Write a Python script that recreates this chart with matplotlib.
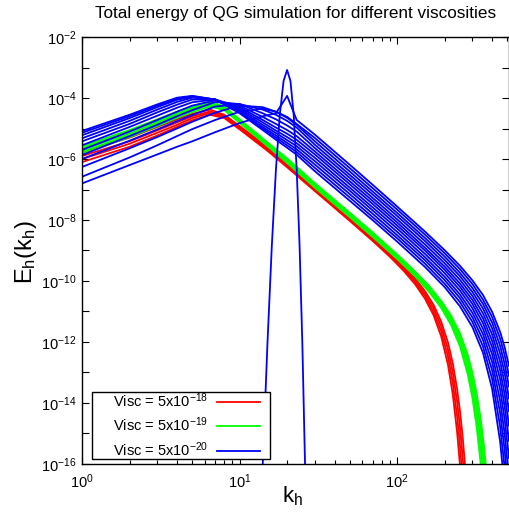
import numpy as np
import matplotlib
matplotlib.use('Agg')
import matplotlib.pyplot as plt
from matplotlib.patches import Rectangle
from matplotlib.ticker import FixedLocator, LogLocator, NullFormatter, FuncFormatter

plt.rcParams['font.family'] = ['Liberation Sans', 'DejaVu Sans']
plt.rcParams['mathtext.fontset'] = 'custom'
plt.rcParams['mathtext.rm'] = 'Liberation Sans'
plt.rcParams['mathtext.it'] = 'Liberation Sans:italic'

### Spectra, stored as log10(E_h)
# initial spike (k = 20)
k_spike = [13, 14, 15, 16, 17, 18, 19, 20, 21, 22, 23, 24, 25, 26, 27]
e_spike = [-20.7, -16.04, -12.08, -8.84, -6.32, -4.52, -3.44, -3.08,
           -3.44, -4.52, -6.32, -8.84, -12.08, -16.04, -20.7]

# Visc = 5x10^-18
k_red = [1, 2, 3, 4, 5, 6.5, 8, 10, 15, 20, 30, 50, 70, 90, 110, 130, 150, 170,
         190, 210, 225, 240, 250, 260, 270, 280]
red_1 = [-5.77, -5.30, -4.95, -4.70, -4.52, -4.38, -4.55, -4.92, -5.60, -6.12,
         -6.92, -7.89, -8.55, -9.06, -9.50, -9.91, -10.33, -10.78, -11.33, -12.02,
         -12.69, -13.55, -14.25, -15.09, -16.11, -17.33]
red_2 = [-5.90, -5.42, -5.06, -4.80, -4.60, -4.44, -4.58, -4.95, -5.64, -6.17,
         -6.96, -7.94, -8.59, -9.11, -9.56, -9.98, -10.41, -10.89, -11.48, -12.24,
         -12.99, -13.96, -14.77, -15.75, -16.94, -18.38]
red_3 = [-6.00, -5.50, -5.14, -4.88, -4.66, -4.49, -4.62, -4.99, -5.69, -6.22,
         -7.01, -7.98, -8.64, -9.16, -9.61, -10.05, -10.49, -11.01, -11.64, -12.48,
         -13.33, -14.44, -15.38, -16.51, -17.90, -19.60]
red_4 = [-6.10, -5.60, -5.23, -4.95, -4.73, -4.55, -4.66, -5.03, -5.73, -6.27,
         -7.05, -8.03, -8.69, -9.21, -9.67, -10.11, -10.58, -11.12, -11.81, -12.75,
         -13.70, -14.96, -16.03, -17.35, -18.98, -20.99]

# Visc = 5x10^-19
k_green = [1, 2, 3, 4, 5, 6.5, 8, 10, 15, 20, 30, 50, 70, 100, 130, 160, 190,
           220, 250, 280, 300, 320, 340, 355, 370, 385]
green_1 = [-5.58, -5.05, -4.70, -4.45, -4.27, -4.12, -4.28, -4.70, -5.45, -5.98,
           -6.79, -7.76, -8.41, -9.13, -9.69, -10.17, -10.65, -11.14, -11.71, -12.41,
           -13.00, -13.71, -14.58, -15.39, -16.35, -17.49]
green_2 = [-5.64, -5.10, -4.75, -4.50, -4.31, -4.16, -4.31, -4.73, -5.48, -6.02,
           -6.83, -7.80, -8.45, -9.17, -9.73, -10.22, -10.70, -11.22, -11.81, -12.56,
           -13.18, -13.95, -14.92, -15.80, -16.85, -18.13]
green_3 = [-5.70, -5.16, -4.80, -4.55, -4.36, -4.20, -4.34, -4.76, -5.52, -6.06,
           -6.86, -7.84, -8.49, -9.20, -9.77, -10.27, -10.76, -11.29, -11.91, -12.70,
           -13.37, -14.20, -15.25, -16.21, -17.39, -18.79]
green_4 = [-5.76, -5.22, -4.86, -4.60, -4.41, -4.24, -4.37, -4.79, -5.55, -6.09,
           -6.90, -7.87, -8.52, -9.24, -9.81, -10.32, -10.82, -11.37, -12.03, -12.87,
           -13.59, -14.50, -15.66, -16.73, -18.02, -19.61]
green_5 = [-5.82, -5.28, -4.92, -4.65, -4.46, -4.28, -4.40, -4.82, -5.58, -6.13,
           -6.94, -7.91, -8.56, -9.28, -9.85, -10.37, -10.88, -11.45, -12.14, -13.05,
           -13.83, -14.82, -16.08, -17.26, -18.71, -20.47]

# Visc = 5x10^-20
k_blue = [1, 2, 3, 4, 5, 7, 10, 14, 17, 20, 23, 30, 50, 70, 100, 150, 200, 250,
          300, 350, 400, 450, 480, 512]
blue_1 = [-6.80, -6.20, -5.85, -5.60, -5.42, -5.12, -4.82, -4.60, -4.50, -3.93, -4.72, -5.20,
          -6.19, -6.85, -7.56, -8.38, -8.99, -9.50, -9.98, -10.46, -11.01, -11.67, -12.16, -12.78]
blue_2 = [-6.58, -5.95, -5.55, -5.25, -5.02, -4.72, -4.45, -4.35, -4.45, -4.62, -4.85, -5.31,
          -6.30, -6.96, -7.66, -8.48, -9.09, -9.61, -10.10, -10.61, -11.18, -11.89, -12.42, -13.11]
blue_3 = [-6.26, -5.65, -5.28, -5.00, -4.78, -4.48, -4.25, -4.30, -4.45, -4.65, -4.88, -5.42,
          -6.41, -7.07, -7.77, -8.59, -9.20, -9.73, -10.23, -10.75, -11.36, -12.13, -12.71, -13.46]
blue_4 = [-6.00, -5.40, -5.03, -4.76, -4.56, -4.28, -4.20, -4.38, -4.55, -4.75, -4.97, -5.53,
          -6.52, -7.17, -7.87, -8.69, -9.31, -9.84, -10.36, -10.90, -11.55, -12.38, -13.01, -13.85]
blue_5 = [-5.87, -5.25, -4.88, -4.60, -4.40, -4.13, -4.20, -4.50, -4.70, -4.90, -5.10, -5.64,
          -6.62, -7.28, -7.98, -8.80, -9.42, -9.96, -10.49, -11.06, -11.75, -12.65, -13.34, -14.27]
blue_6 = [-5.70, -5.10, -4.72, -4.45, -4.25, -4.08, -4.25, -4.62, -4.85, -5.05, -5.25, -5.75,
          -6.73, -7.38, -8.08, -8.91, -9.53, -10.08, -10.62, -11.22, -11.96, -12.93, -13.70, -14.74]
blue_7 = [-5.55, -4.95, -4.58, -4.32, -4.14, -4.05, -4.30, -4.72, -4.97, -5.17, -5.37, -5.85,
          -6.83, -7.48, -8.18, -9.00, -9.63, -10.19, -10.75, -11.38, -12.17, -13.23, -14.08, -15.24]
blue_8 = [-5.42, -4.85, -4.47, -4.22, -4.05, -4.05, -4.35, -4.80, -5.07, -5.28, -5.48, -5.96,
          -6.94, -7.59, -8.28, -9.11, -9.74, -10.31, -10.89, -11.56, -12.40, -13.57, -14.51, -15.80]
blue_9 = [-5.32, -4.75, -4.38, -4.13, -3.99, -4.05, -4.40, -4.88, -5.15, -5.38, -5.58, -6.07,
          -7.04, -7.69, -8.39, -9.22, -9.86, -10.44, -11.04, -11.74, -12.65, -13.94, -14.99, -16.43]
blue_10 = [-5.22, -4.66, -4.30, -4.06, -3.96, -4.05, -4.45, -4.95, -5.23, -5.47, -5.68, -6.18,
           -7.15, -7.80, -8.50, -9.32, -9.97, -10.56, -11.19, -11.93, -12.92, -14.34, -15.51, -17.15]
blue_11 = [-5.14, -4.60, -4.25, -4.02, -3.94, -4.05, -4.48, -5.00, -5.30, -5.55, -5.77, -6.29,
           -7.26, -7.91, -8.60, -9.43, -10.09, -10.69, -11.34, -12.14, -13.21, -14.78, -16.09, -17.94]
blue_12 = [-5.08, -4.55, -4.21, -3.99, -3.93, -4.05, -4.50, -5.05, -5.37, -5.63, -5.86, -6.40,
           -7.37, -8.01, -8.71, -9.54, -10.20, -10.83, -11.51, -12.35, -13.53, -15.27, -16.75, -18.83]

reds = [red_1, red_2, red_3, red_4]
greens = [green_1, green_2, green_3, green_4, green_5]
blues = [blue_1, blue_2, blue_3, blue_4, blue_5, blue_6, blue_7, blue_8,
         blue_9, blue_10, blue_11, blue_12]

labels = [r'Visc = 5x10$^{\mathregular{-18}}$',
          r'Visc = 5x10$^{\mathregular{-19}}$',
          r'Visc = 5x10$^{\mathregular{-20}}$']

#### Plot
fig = plt.figure(figsize=(5.1, 5.14), dpi=100)
ax = fig.add_axes([0.161, 0.0973, 0.837, 0.8307])
lw = 1.3

for i, e in enumerate(reds):
    ax.plot(k_red, 10**np.array(e), color='#ff0000', lw=lw,
            label=labels[0] if i == 0 else None)
for i, e in enumerate(greens):
    ax.plot(k_green, 10**np.array(e), color='#00ff00', lw=lw,
            label=labels[1] if i == 0 else None)
ax.plot(k_spike, 10**np.array(e_spike), color='#0000ff', lw=lw)
for i, e in enumerate(blues):
    ax.plot(k_blue, 10**np.array(e), color='#0000ff', lw=lw,
            label=labels[2] if i == 0 else None)

ax.set_xscale('log')
ax.set_yscale('log')
ax.set_xlim(1, 512)
ax.set_ylim(1e-16, 1e-2)

ax.yaxis.set_major_locator(FixedLocator([10.0**p for p in range(-16, -1)]))
ax.yaxis.set_major_formatter(FuncFormatter(
    lambda v, pos: r'10$^{\mathregular{%d}}$' % round(np.log10(v))
    if round(np.log10(v)) % 2 == 0 else ''))
ax.yaxis.set_minor_locator(FixedLocator([]))
ax.xaxis.set_major_locator(FixedLocator([1, 10, 100]))
ax.xaxis.set_major_formatter(FuncFormatter(
    lambda v, pos: r'10$^{\mathregular{%d}}$' % round(np.log10(v))))
ax.xaxis.set_minor_locator(LogLocator(base=10, subs=np.arange(2, 10)))
ax.xaxis.set_minor_formatter(NullFormatter())

ax.tick_params(which='both', direction='in', top=True, right=True,
               labelsize=10.5, color='black')
ax.tick_params(which='major', length=5, width=0.8)
ax.tick_params(axis='y', pad=4)
ax.tick_params(axis='x', pad=6)
ax.tick_params(which='minor', length=3, width=0.8)
for s in ax.spines.values():
    s.set_linewidth(1.0)
    s.set_color('black')

fig.text(293/510, 1 - 496/514, r'k$_{\mathregular{h}}$', fontsize=16,
         ha='center', va='center')
fig.text(26/510, 1 - 252/514, r'E$_{\mathregular{h}}$(k$_{\mathregular{h}}$)',
         fontsize=17, rotation=90, ha='center', va='center')
ax.set_title('Total energy of QG simulation for different viscosities',
             fontsize=12.3, pad=14)

# legend: frame drawn as a box, entries text-first like gnuplot
ax.add_patch(Rectangle((0.0234, 0.0117), 0.4166, 0.1569, transform=ax.transAxes,
                       facecolor='white', edgecolor='black', lw=1.0, zorder=4))
leg = ax.legend(loc='center', bbox_to_anchor=(0.2447, 0.0913), borderaxespad=0,
                borderpad=0, markerfirst=False, fontsize=10.5, handlelength=2.95,
                handletextpad=0.62, labelspacing=0.4, frameon=False)
leg.set_zorder(5)

plt.savefig('out.png', dpi=100)
